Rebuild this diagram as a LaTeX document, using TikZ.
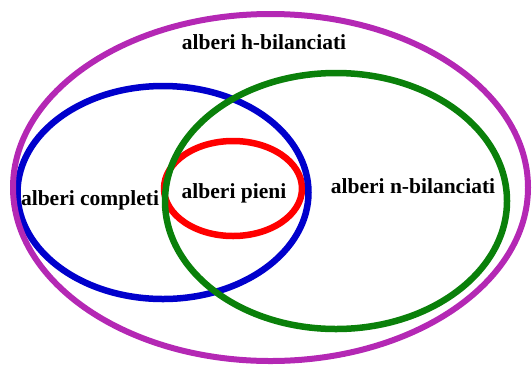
\documentclass[tikz,border=0pt]{standalone}
\usepackage{fontspec}
\setmainfont{Liberation Serif}
\usepackage{xcolor}
\usetikzlibrary{shapes.geometric}
\definecolor{hmag}{HTML}{B428B4}
\definecolor{cblue}{HTML}{0000CC}
\definecolor{ngreen}{HTML}{0A800A}
\definecolor{pred}{HTML}{FF0000}
\tikzset{
    every picture/.style={line cap=round,line join=round},
    setring/.style={draw=#1,ellipse,line width=6.5pt,inner sep=0pt,outer sep=0pt},
    setlabel/.style={font=\bfseries\fontsize{21.5}{24}\selectfont,inner sep=1pt}
}
\begin{document}
\begin{tikzpicture}[x=1pt,y=-1pt]
  \useasboundingbox (0,0) rectangle (532,365);
  % sets, innermost first
  \node[setring=pred,minimum width=138pt,minimum height=95pt] (pieni) at (233,188.5) {};
  \node[setring=cblue,minimum width=291pt,minimum height=213pt] (compl) at (163,192.5) {};
  \node[setring=ngreen,minimum width=342pt,minimum height=256pt] (nbil) at (336,201) {};
  \node[setring=hmag,line width=6pt,minimum width=515pt,minimum height=347pt] (hbil) at (270.5,187.5) {};
  % labels
  \node[setlabel] (lhbil) at (264,42) {alberi h-bilanciati};
  \node[setlabel] (lcompl) at (90,200) {alberi completi};
  \node[setlabel] (lpieni) at (234,193) {alberi pieni};
  \node[setlabel] (lnbil) at (413,186) {alberi n-bilanciati};
\end{tikzpicture}
\end{document}
